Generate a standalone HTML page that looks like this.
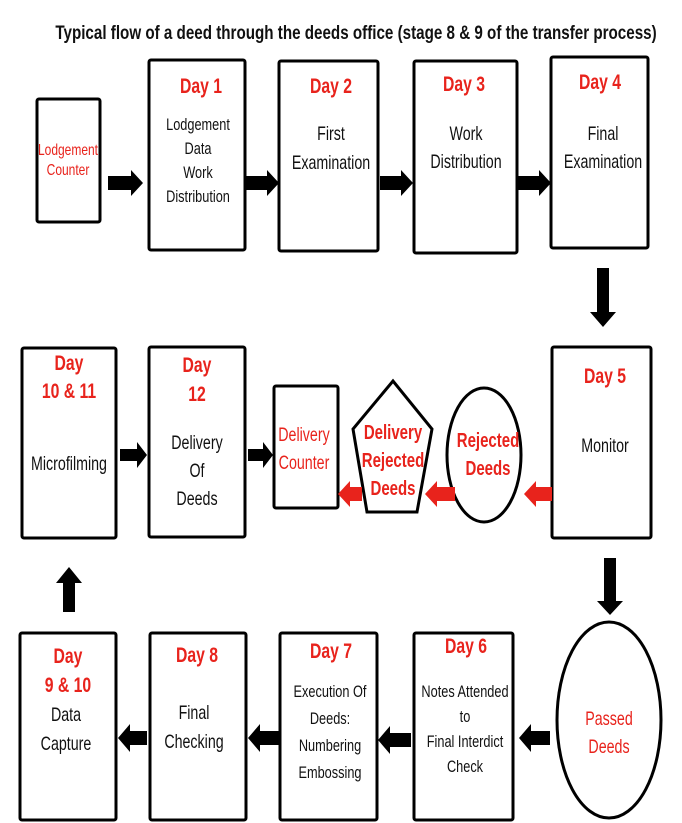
<!DOCTYPE html>
<html><head><meta charset="utf-8"><style>
html,body{margin:0;padding:0;background:#fff;}
svg{display:block;}
text{font-family:"Liberation Sans",Arial,sans-serif;}
.r{fill:#e8231c;font-weight:bold;font-size:21px;}
.b{fill:#111;font-size:19px;}
.rn{fill:#e8231c;font-size:19px;}
.rb{fill:#e8231c;font-weight:bold;font-size:20px;}
</style></head><body>
<svg width="682" height="823" viewBox="0 0 682 823" xmlns="http://www.w3.org/2000/svg">
<g stroke="#000" stroke-width="3" fill="#fff">
<rect x="37" y="99" width="63" height="123" rx="2"/>
<rect x="149" y="60" width="96" height="190" rx="2"/>
<rect x="279" y="61" width="99" height="190" rx="2"/>
<rect x="414" y="61" width="103" height="192" rx="2"/>
<rect x="551" y="57" width="97" height="191" rx="2"/>
<rect x="22" y="348" width="94" height="190" rx="2"/>
<rect x="149" y="347" width="96" height="190" rx="2"/>
<rect x="274" y="386" width="64" height="122" rx="2"/>
<polygon points="393,381 353,429 367,512 417,512 432,429"/>
<ellipse cx="484" cy="455" rx="37" ry="67"/>
<rect x="552" y="347" width="99" height="191" rx="2"/>
<ellipse cx="609" cy="720" rx="52" ry="98"/>
<rect x="20" y="633" width="96" height="187" rx="2"/>
<rect x="150" y="633" width="96" height="187" rx="2"/>
<rect x="280" y="633" width="97" height="187" rx="2"/>
<rect x="414" y="633" width="99" height="187" rx="2"/>
</g>
<g fill="#000">
<polygon points="108,176 131,176 131,170 143,183 131,196 131,190 108,190"/>
<polygon points="245,176 267,176 267,170 279,183 267,196 267,190 245,190"/>
<polygon points="380,176 401,176 401,170 413,183 401,196 401,190 380,190"/>
<polygon points="518,176 539,176 539,170 551,183 539,196 539,190 518,190"/>
<polygon points="597,268 609,268 609,312 616,312 603,327 590,312 597,312"/>
<polygon points="120,449 137,449 137,442 147,455 137,468 137,461 120,461"/>
<polygon points="248,449 263,449 263,442 273,455 263,468 263,461 248,461"/>
<polygon points="604,558 616,558 616,601 623,601 610,615 597,601 604,601"/>
<polygon points="550,731 531,731 531,724 519,738 531,752 531,745 550,745"/>
<polygon points="411,733 390,733 390,726 378,740 390,754 390,747 411,747"/>
<polygon points="280,731 260,731 260,724 248,738 260,752 260,745 280,745"/>
<polygon points="147,731 130,731 130,724 118,738 130,752 130,745 147,745"/>
<polygon points="63,612 75,612 75,583 82,583 69,567 56,583 63,583"/>
</g>
<g fill="#e8231c">
<polygon points="362,487 350,487 350,481 338,494 350,507 350,501 362,501"/>
<polygon points="455,487 437,487 437,481 425,494 437,507 437,501 455,501"/>
<polygon points="552,487 536,487 536,481 524,494 536,507 536,501 552,501"/>
</g>
<text transform="translate(356,39) scale(0.8,1)" text-anchor="middle" style="font-weight:bold;font-size:19px;fill:#111">Typical flow of a deed through the deeds office (stage 8 &amp; 9 of the transfer process)</text>
<g text-anchor="middle">
<text transform="translate(68,155) scale(0.75,1)" style="fill:#e8231c;font-size:16px">Lodgement</text>
<text transform="translate(68,175) scale(0.75,1)" style="fill:#e8231c;font-size:16px">Counter</text>
<text class="r" transform="translate(201,93) scale(0.75,1)">Day 1</text>
<text class="b" style="font-size:17px" transform="translate(198,130) scale(0.75,1)">Lodgement</text>
<text class="b" style="font-size:17px" transform="translate(198,154) scale(0.75,1)">Data</text>
<text class="b" style="font-size:17px" transform="translate(198,178) scale(0.75,1)">Work</text>
<text class="b" style="font-size:17px" transform="translate(198,202) scale(0.75,1)">Distribution</text>
<text class="r" transform="translate(331,93) scale(0.75,1)">Day 2</text>
<text class="b" transform="translate(331,140) scale(0.75,1)">First</text>
<text class="b" transform="translate(331,169) scale(0.75,1)">Examination</text>
<text class="r" transform="translate(464,91) scale(0.75,1)">Day 3</text>
<text class="b" transform="translate(466,140) scale(0.75,1)">Work</text>
<text class="b" transform="translate(466,168) scale(0.75,1)">Distribution</text>
<text class="r" transform="translate(600,89) scale(0.75,1)">Day 4</text>
<text class="b" transform="translate(603,140) scale(0.75,1)">Final</text>
<text class="b" transform="translate(603,168) scale(0.75,1)">Examination</text>

<text class="r" transform="translate(69,370) scale(0.75,1)">Day</text>
<text class="r" transform="translate(69,398) scale(0.75,1)">10 &amp; 11</text>
<text class="b" transform="translate(69,470) scale(0.75,1)">Microfilming</text>
<text class="r" transform="translate(197,372) scale(0.75,1)">Day</text>
<text class="r" transform="translate(197,401) scale(0.75,1)">12</text>
<text class="b" transform="translate(197,449) scale(0.75,1)">Delivery</text>
<text class="b" transform="translate(197,477) scale(0.75,1)">Of</text>
<text class="b" transform="translate(197,505) scale(0.75,1)">Deeds</text>
<text class="rn" transform="translate(304,441) scale(0.75,1)">Delivery</text>
<text class="rn" transform="translate(304,469) scale(0.75,1)">Counter</text>
<text class="rb" transform="translate(393,439) scale(0.75,1)">Delivery</text>
<text class="rb" transform="translate(393,467) scale(0.75,1)">Rejected</text>
<text class="rb" transform="translate(393,495) scale(0.75,1)">Deeds</text>
<text class="rb" transform="translate(488,447) scale(0.75,1)">Rejected</text>
<text class="rb" transform="translate(488,475) scale(0.75,1)">Deeds</text>
<text class="r" transform="translate(605,383) scale(0.75,1)">Day 5</text>
<text class="b" transform="translate(605,452) scale(0.75,1)">Monitor</text>

<text class="rn" transform="translate(609,725) scale(0.75,1)">Passed</text>
<text class="rn" transform="translate(609,753) scale(0.75,1)">Deeds</text>
<text class="r" transform="translate(68,663) scale(0.75,1)">Day</text>
<text class="r" transform="translate(68,692) scale(0.75,1)">9 &amp; 10</text>
<text class="b" transform="translate(66,721) scale(0.75,1)">Data</text>
<text class="b" transform="translate(66,750) scale(0.75,1)">Capture</text>
<text class="r" transform="translate(197,662) scale(0.75,1)">Day 8</text>
<text class="b" transform="translate(194,719) scale(0.75,1)">Final</text>
<text class="b" transform="translate(194,748) scale(0.75,1)">Checking</text>
<text class="r" transform="translate(331,658) scale(0.75,1)">Day 7</text>
<text class="b" style="font-size:17px" transform="translate(330,697) scale(0.75,1)">Execution Of</text>
<text class="b" style="font-size:17px" transform="translate(330,724) scale(0.75,1)">Deeds:</text>
<text class="b" style="font-size:17px" transform="translate(330,751) scale(0.75,1)">Numbering</text>
<text class="b" style="font-size:17px" transform="translate(330,778) scale(0.75,1)">Embossing</text>
<text class="r" transform="translate(466,653) scale(0.75,1)">Day 6</text>
<text class="b" style="font-size:17px" transform="translate(465,697) scale(0.75,1)">Notes Attended</text>
<text class="b" style="font-size:17px" transform="translate(465,722) scale(0.75,1)">to</text>
<text class="b" style="font-size:17px" transform="translate(465,747) scale(0.75,1)">Final Interdict</text>
<text class="b" style="font-size:17px" transform="translate(465,772) scale(0.75,1)">Check</text>
</g>
</svg>
</body></html>
